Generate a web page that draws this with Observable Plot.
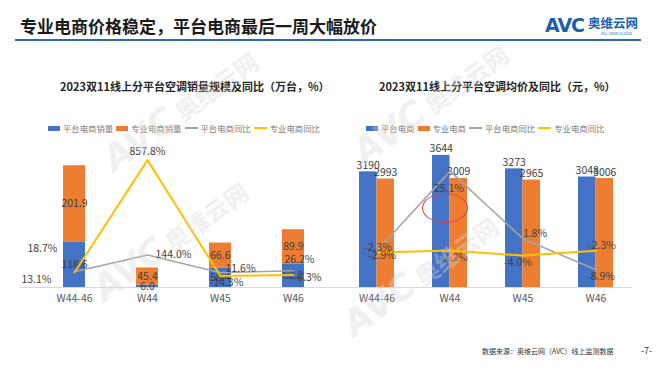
<!DOCTYPE html>
<html><head><meta charset="utf-8">
<script src="https://cdn.jsdelivr.net/npm/d3@7"></script>
<script src="https://cdn.jsdelivr.net/npm/@observablehq/plot@0.6"></script>
<style>
body{margin:0;width:660px;height:372px;background:#fff;position:relative;overflow:hidden;font-family:"Noto Sans CJK SC","Noto Sans",sans-serif;}
.abs{position:absolute;white-space:nowrap;}
.title{left:20px;top:14px;font-size:17px;font-weight:bold;color:#1a1a1a;line-height:24px;}
.rule{left:15px;top:39px;width:626px;height:2px;background:#2e68b0;}
.ctitle{font-size:11px;font-weight:bold;color:#262626;line-height:14px;}
.legend{display:flex;align-items:center;font-size:8.4px;color:#7f7f7f;line-height:10px;}
.legend .sw{display:inline-block;width:12px;height:5px;margin-right:3px;}
.legend .ln{display:inline-block;width:13px;height:1.5px;margin-right:3px;}
.legend .it{display:flex;align-items:center;margin-right:3px;}
.wm{width:180px;height:42px;line-height:42px;text-align:center;font-weight:bold;font-size:24px;color:rgba(215,215,215,0.4);transform:rotate(-36deg);transform-origin:center;pointer-events:none;}
.wm span{font-family:'DejaVu Sans';font-size:36px;font-style:italic;}
</style></head><body>
<div class="abs title">专业电商价格稳定，平台电商最后一周大幅放价</div>
<div class="abs rule"></div>
<div class="abs" style="left:545px;top:14px;font-size:19px;font-weight:900;color:#1c5fb0;font-family:'DejaVu Sans';letter-spacing:-1px;line-height:22px;">AVC</div>
<div class="abs" style="left:588px;top:16px;font-size:12.5px;font-weight:bold;color:#1c5fb0;line-height:14px;">奥维云网</div>
<div class="abs" style="left:601px;top:31px;font-size:4px;color:#1c5fb0;line-height:5px;">ALL VIEW CLOUD</div>

<div class="abs ctitle" style="left:60px;top:79px;">2023双11线上分平台空调销量规模及同比（万台，%）</div>
<div class="abs ctitle" style="left:379px;top:79px;">2023双11线上分平台空调均价及同比（元，%）</div>

<div class="abs legend" id="legL" style="left:48px;top:123px;"></div>
<div class="abs legend" id="legR" style="left:366px;top:123px;"></div>

<div class="abs" id="chartL" style="left:20px;top:140px;"></div>
<div class="abs" id="chartR" style="left:330px;top:130px;"></div>

<div class="abs" style="left:422px;top:193px;width:44px;height:28px;border:1px solid #e0393e;border-radius:50%;"></div>

<div class="abs wm" style="left:80px;top:219px;"><span>AVC</span> 奥维云网</div>
<div class="abs wm" style="left:90px;top:89px;"><span>AVC</span> 奥维云网</div>
<div class="abs wm" style="left:340px;top:82px;"><span>AVC</span> 奥维云网</div>
<div class="abs wm" style="left:330px;top:254px;"><span>AVC</span> 奥维云网</div>

<div class="abs" style="left:482px;top:347px;font-size:7px;color:#333;line-height:9px;">数据来源：奥维云网（AVC）线上监测数据</div>
<div class="abs" style="left:641px;top:346px;font-size:9px;color:#333;line-height:10px;">-7-</div>

<script>
// ---- data ----
const weeks = ["W44-46", "W44", "W45", "W46"];
const platVol = [118.6, 6.0, 50.4, 62.2];
const proVol = [201.9, 45.4, 66.6, 89.9];
const platVolYoY = [18.7, 144.0, 11.6, 26.2];
const proVolYoY = [13.1, 857.8, -14.3, -6.3];
const platPrice = [3190, 3644, 3273, 3048];
const proPrice = [2993, 3009, 2965, 3006];
const platPriceYoY = [-2.3, 25.1, 1.8, -8.9];
const proPriceYoY = [-2.9, -2.2, -4.0, -2.3];
const legendLeft = ["平台电商销量", "专业电商销量", "平台电商同比", "专业电商同比"];
const legendRight = ["平台电商", "专业电商", "平台电商同比", "专业电商同比"];

// ---- styling ----
const BLUE = "#4472C4", ORANGE = "#ED7D31", GRAY = "#A5A5A5", YELLOW = "#FFC000";
const LBL = "#404040";
const FONT = "'Noto Sans CJK SC','Noto Sans',sans-serif";

function legend(el, names) {
  const kinds = ["sw", "sw", "ln", "ln"], cols = [BLUE, ORANGE, GRAY, YELLOW];
  el.innerHTML = names.map((n, i) =>
    `<span class="it"><span class="${kinds[i]}" style="background:${cols[i]}"></span>${n}</span>`).join("");
}
legend(document.getElementById("legL"), legendLeft);
legend(document.getElementById("legR"), legendRight);

const pct = v => v.toFixed(1) + "%";

// label offsets [dx, dy, anchor]
const offLGray = [[-17, -23, "end"], [8, 0, "start"], [5, -4, "start"], [6, -11, "middle"]];
const offLYel = [[-23, 7, "end"], [0, -8, "middle"], [6, 7, "middle"], [14, 3, "middle"]];
const offRGray = [[1, -3, "middle"], [-1, 17, "middle"], [12, -5, "middle"], [5, 7, "middle"]];
const offRYel = [[5, 3, "middle"], [4, 7, "middle"], [-5, 7, "middle"], [6, -5, "middle"]];

function lineLabels(vals, conv, offs) {
  return vals.map((v, i) => Plot.text([weeks[i]], {
    x: d => d, y: () => conv(v), text: () => pct(v),
    dx: offs[i][0], dy: offs[i][1], textAnchor: offs[i][2], fill: LBL, fontSize: 10.5
  }));
}

// ---- left chart ----
const secL = d3.scaleLinear().domain([-100, 900]).range([0, 350]);
const volRows = weeks.flatMap((w, i) => [
  {week: w, s: legendLeft[0], v: platVol[i]},
  {week: w, s: legendLeft[1], v: proVol[i]}
]);
const chartL = Plot.plot({
  width: 310, height: 175, marginTop: 14, marginBottom: 28, marginLeft: 0, marginRight: 0,
  style: {fontSize: "10.5px", fontFamily: FONT, color: "#595959", background: "transparent", overflow: "visible"},
  x: {domain: weeks, range: [42, 284], paddingInner: 0.7, paddingOuter: 0, label: null, tickSize: 0, tickPadding: 7},
  y: {domain: [0, 350], axis: null},
  color: {domain: legendLeft.slice(0, 2), range: [BLUE, ORANGE]},
  marks: [
    Plot.ruleY([0], {stroke: "#d9d9d9"}),
    Plot.barY(volRows, {x: "week", y: "v", fill: "s"}),
    Plot.text(volRows, Plot.stackY({x: "week", y: "v", z: "s", text: d => d.v.toFixed(1), fill: LBL, fontSize: 10.5})),
    Plot.line(weeks, {x: d => d, y: (d, i) => secL(platVolYoY[i]), stroke: GRAY, strokeWidth: 1.6}),
    Plot.line(weeks, {x: d => d, y: (d, i) => secL(proVolYoY[i]), stroke: YELLOW, strokeWidth: 2}),
    ...lineLabels(platVolYoY, secL, offLGray),
    ...lineLabels(proVolYoY, secL, offLYel)
  ]
});
document.getElementById("chartL").append(chartL);

// ---- right chart ----
const secR = d3.scaleLinear().domain([-15, 35]).range([0, 4000]);
const rRange = [27.5, 283.5], rPad = 0.525;
const halfBand = (rRange[1] - rRange[0]) / (4 - rPad) * (1 - rPad) / 2;
const chartR = Plot.plot({
  width: 310, height: 185, marginTop: 12, marginBottom: 28, marginLeft: 0, marginRight: 8,
  style: {fontSize: "10.5px", fontFamily: FONT, color: "#595959", background: "transparent", overflow: "visible"},
  x: {domain: weeks, range: rRange, paddingInner: rPad, paddingOuter: 0, label: null, tickSize: 0, tickPadding: 7},
  y: {domain: [0, 4000], axis: null},
  marks: [
    Plot.ruleY([0], {stroke: "#d9d9d9"}),
    Plot.barY(weeks, {x: d => d, y: (d, i) => platPrice[i], fill: BLUE, insetRight: halfBand}),
    Plot.barY(weeks, {x: d => d, y: (d, i) => proPrice[i], fill: ORANGE, insetLeft: halfBand}),
    Plot.text(weeks, {x: d => d, y: (d, i) => platPrice[i], text: (d, i) => String(platPrice[i]), dx: -halfBand / 2, dy: -3, lineAnchor: "bottom", fill: LBL, fontSize: 10.5}),
    Plot.text(weeks, {x: d => d, y: (d, i) => proPrice[i], text: (d, i) => String(proPrice[i]), dx: halfBand / 2, dy: -3, lineAnchor: "bottom", fill: LBL, fontSize: 10.5}),
    Plot.line(weeks, {x: d => d, y: (d, i) => secR(platPriceYoY[i]), stroke: GRAY, strokeWidth: 1.6}),
    Plot.line(weeks, {x: d => d, y: (d, i) => secR(proPriceYoY[i]), stroke: YELLOW, strokeWidth: 2}),
    ...lineLabels(platPriceYoY, secR, offRGray),
    ...lineLabels(proPriceYoY, secR, offRYel)
  ]
});
document.getElementById("chartR").append(chartR);
</script>
</body></html>
